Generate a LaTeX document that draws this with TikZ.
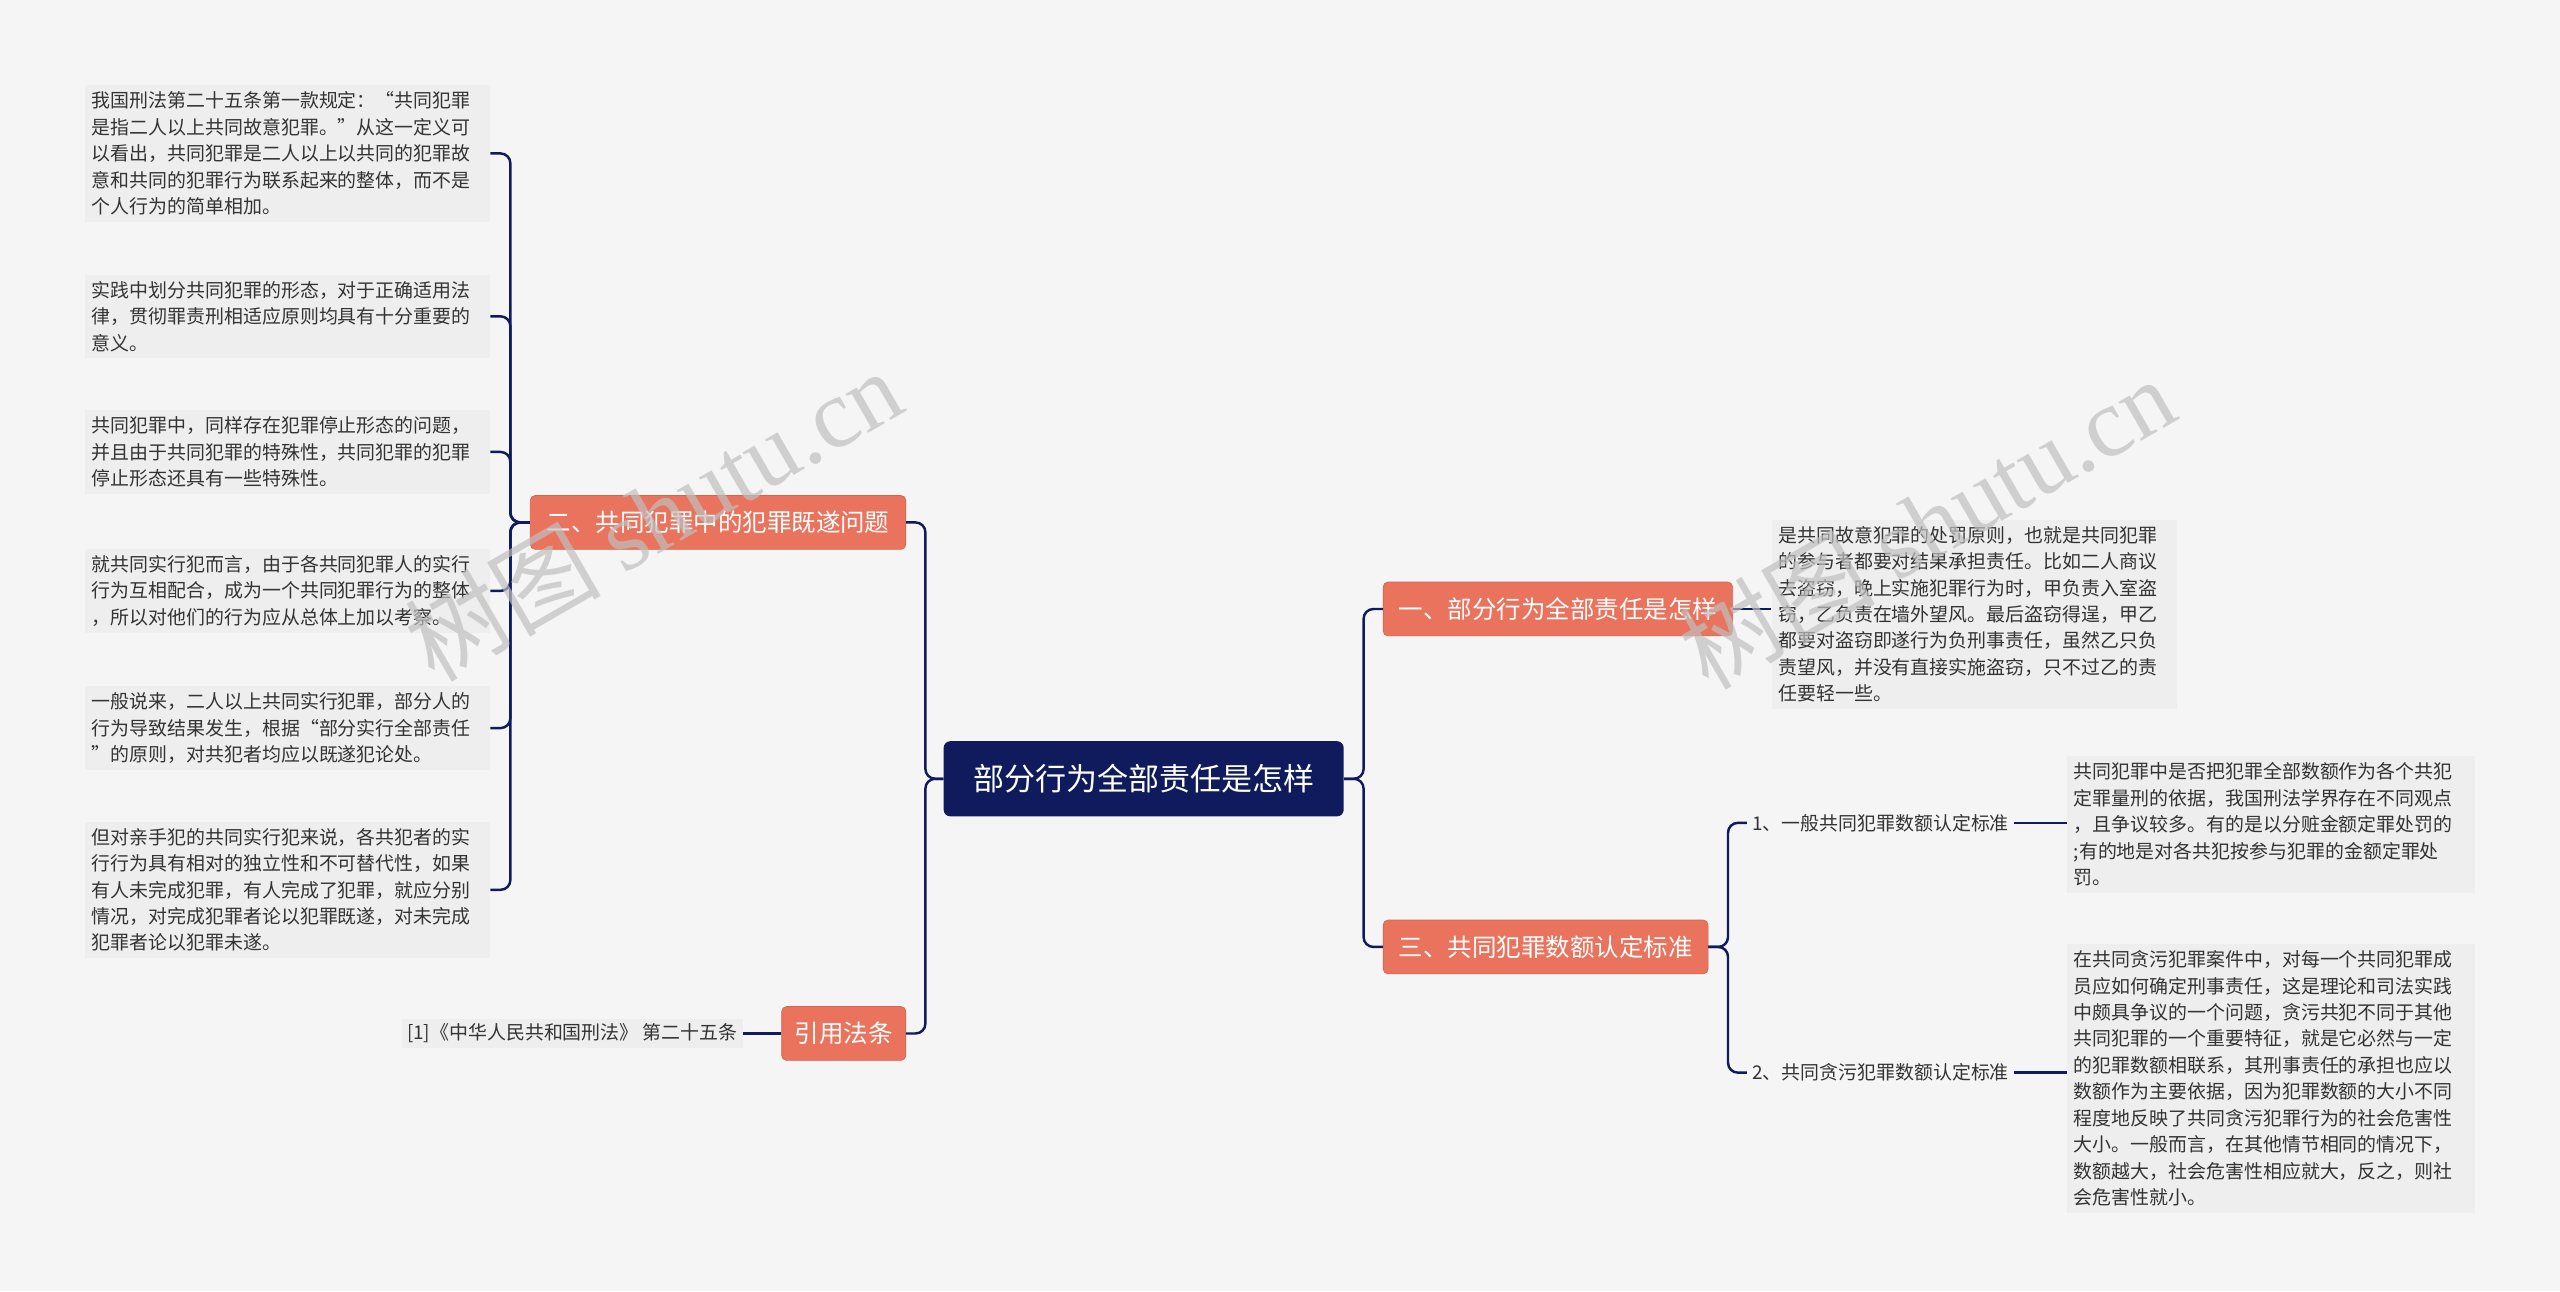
\documentclass[tikz,border=0pt]{standalone}
\usepackage{fontspec}
\setmainfont{Noto Sans CJK SC}
\newfontfamily\wmlatin{Liberation Serif}
\definecolor{bg}{HTML}{F5F5F5}
\definecolor{navy}{HTML}{0F1B5C}
\definecolor{salmon}{HTML}{E9735D}
\definecolor{salmonb}{HTML}{D8624C}
\definecolor{leafbg}{HTML}{EEEEEE}
\definecolor{txt}{HTML}{333333}
\begin{document}
\begin{tikzpicture}[x=1pt,y=-1pt,
  conn/.style={draw=navy,line width=1.5pt,rounded corners=6pt},
  leaf/.style={fill=leafbg,inner sep=4pt,anchor=north west,text width=240pt,align=left,text=txt,font=\fontsize{11.6}{16.2}\selectfont},
  branch/.style={fill=salmon,draw=salmonb,rounded corners=3pt,text=white,font=\fontsize{15}{18}\selectfont,minimum height=33pt,inner xsep=8pt},
  lab/.style={text=txt,font=\fontsize{11.6}{14}\selectfont,inner sep=3pt},
  wm/.style={text=black!25,opacity=0.7,font=\fontsize{60}{60}\selectfont,rotate=30}]
\fill[bg] (0,0) rectangle (1568,791);
\useasboundingbox (0,0) rectangle (1568,791);
\node[fill=navy,rounded corners=4pt,text=white,font=\fontsize{19}{22}\selectfont,minimum width=245pt,minimum height=46pt] (c) at (700.5,477) {部分行为全部责任是怎样};
\node[branch,anchor=east,minimum width=230pt] (b2) at (555,320) {二、共同犯罪中的犯罪既遂问题};
\node[branch,anchor=east] (b4) at (555,633) {引用法条};
\node[branch,anchor=west,minimum width=214pt] (b1) at (847,373) {一、部分行为全部责任是怎样};
\node[branch,anchor=west,minimum width=199pt] (b3) at (847,580) {三、共同犯罪数额认定标准};
\node[leaf] (l1) at (52,52) {我国刑法第二十五条第一款规定：“共同犯罪\\是指二人以上共同故意犯罪。”从这一定义可\\以看出，共同犯罪是二人以上以共同的犯罪故\\意和共同的犯罪行为联系起来的整体，而不是\\个人行为的简单相加。};
\node[leaf] (l2) at (52,168) {实践中划分共同犯罪的形态，对于正确适用法\\律，贯彻罪责刑相适应原则均具有十分重要的\\意义。};
\node[leaf] (l3) at (52,251) {共同犯罪中，同样存在犯罪停止形态的问题，\\并且由于共同犯罪的特殊性，共同犯罪的犯罪\\停止形态还具有一些特殊性。};
\node[leaf] (l4) at (52,336) {就共同实行犯而言，由于各共同犯罪人的实行\\行为互相配合，成为一个共同犯罪行为的整体\\，所以对他们的行为应从总体上加以考察。};
\node[leaf] (l5) at (52,420) {一般说来，二人以上共同实行犯罪，部分人的\\行为导致结果发生，根据“部分实行全部责任\\”的原则，对共犯者均应以既遂犯论处。};
\node[leaf] (l6) at (52,503) {但对亲手犯的共同实行犯来说，各共犯者的实\\行行为具有相对的独立性和不可替代性，如果\\有人未完成犯罪，有人完成了犯罪，就应分别\\情况，对完成犯罪者论以犯罪既遂，对未完成\\犯罪者论以犯罪未遂。};
\node[lab,fill=leafbg,anchor=east] (ref) at (455,633) {[1]《中华人民共和国刑法》 第二十五条};
\node[leaf] (r1) at (1085,318) {是共同故意犯罪的处罚原则，也就是共同犯罪\\的参与者都要对结果承担责任。比如二人商议\\去盗窃，晚上实施犯罪行为时，甲负责入室盗\\窃，乙负责在墙外望风。最后盗窃得逞，甲乙\\都要对盗窃即遂行为负刑事责任，虽然乙只负\\责望风，并没有直接实施盗窃，只不过乙的责\\任要轻一些。};
\node[lab,anchor=west] (s1) at (1070,504) {1、一般共同犯罪数额认定标准};
\node[lab,anchor=west] (s2) at (1070,657) {2、共同贪污犯罪数额认定标准};
\node[leaf,text width=242pt] (r2) at (1266,463) {共同犯罪中是否把犯罪全部数额作为各个共犯\\定罪量刑的依据，我国刑法学界存在不同观点\\，且争议较多。有的是以分赃金额定罪处罚的\\;有的地是对各共犯按参与犯罪的金额定罪处\\罚。};
\node[leaf,text width=242pt] (r3) at (1266,578) {在共同贪污犯罪案件中，对每一个共同犯罪成\\员应如何确定刑事责任，这是理论和司法实践\\中颇具争议的一个问题，贪污共犯不同于其他\\共同犯罪的一个重要特征，就是它必然与一定\\的犯罪数额相联系，其刑事责任的承担也应以\\数额作为主要依据，因为犯罪数额的大小不同\\程度地反映了共同贪污犯罪行为的社会危害性\\大小。一般而言，在其他情节相同的情况下，\\数额越大，社会危害性相应就大，反之，则社\\会危害性就小。};
% connectors
\foreach \t in {b2,b4} \draw[conn] (c.west) -- ++(-11,0) |- (\t.east);
\foreach \t in {b1,b3} \draw[conn] (c.east) -- ++(12,0) |- (\t.west);
\foreach \t in {l1,l2,l3,l4,l5,l6} \draw[conn] (b2.west) -- ++(-12,0) |- (\t.east);
\draw[conn] (b4.west) -- (ref.east);
\draw[conn] (b1.east) -- (r1.west |- b1.east);
\foreach \t in {s1,s2} \draw[conn] (b3.east) -- ++(12,0) |- (\t.west);
\draw[conn] (s1.east) -- (r2.west |- s1.east);
\draw[conn] (s2.east) -- (r3.west |- s2.east);
% watermarks
\node[wm] (w1) at (400,315) {树图 {\wmlatin shutu.cn}};
\node[wm] (w2) at (1180,320) {树图 {\wmlatin shutu.cn}};
\end{tikzpicture}
\end{document}
